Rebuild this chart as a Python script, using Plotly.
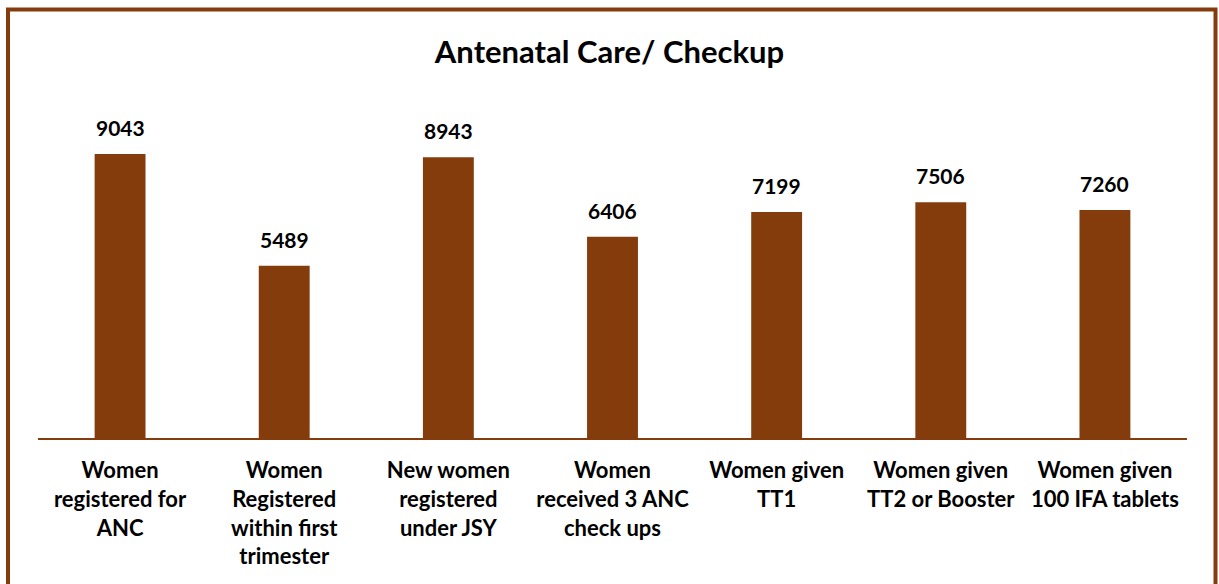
import plotly.graph_objects as go

categories = [
    "Women<br>registered for<br>ANC",
    "Women<br>Registered<br>within first<br>trimester",
    "New women<br>registered<br>under JSY",
    "Women<br>received 3 ANC<br>check ups",
    "Women given<br>TT1",
    "Women given<br>TT2 or Booster",
    "Women given<br>100 IFA tablets",
]
values = [9043, 5489, 8943, 6406, 7199, 7506, 7260]

BROWN = "#843C0C"
FONT = "Lato"

fig = go.Figure()
fig.add_trace(go.Bar(
    x=list(range(len(categories))),
    y=values,
    marker=dict(color=BROWN, line=dict(width=0)),
    width=0.31,
    hoverinfo="skip",
))

for i, v in enumerate(values):
    fig.add_annotation(
        x=i, y=v, text=f"<b>{v}</b>", showarrow=False,
        yanchor="bottom", yshift=12,
        font=dict(family=FONT, size=21, color="black"),
    )

# outer border
L, R, T, B = 38, 1187, 124, 438
def px(x):
    return (x - L) / (R - L)
def py(y):
    return (B - y) / (B - T)

fig.add_shape(type="rect", xref="paper", yref="paper",
              x0=px(8), x1=px(1215.5), y0=py(620), y1=py(9.5),
              line=dict(color=BROWN, width=4), fillcolor="rgba(0,0,0,0)", layer="above")

fig.update_layout(
    width=1219, height=584,
    margin=dict(l=L, r=1219 - R, t=T, b=584 - B),
    paper_bgcolor="white", plot_bgcolor="white",
    showlegend=False,
    title=dict(text="<b>Antenatal Care/ Checkup</b>", x=0.5, xanchor="center",
               y=1 - 52 / 584, yanchor="middle",
               font=dict(family=FONT, size=31, color="black")),
    xaxis=dict(
        tickmode="array", tickvals=list(range(len(categories))),
        ticktext=[f"<b>{c}</b>" for c in categories],
        range=[-0.5, len(categories) - 0.5],
        showline=True, linecolor=BROWN, linewidth=2,
        ticks="", showgrid=False, zeroline=False,
        tickfont=dict(family=FONT, size=22, color="black"),
        ticklabelstandoff=12,
    ),
    yaxis=dict(range=[0, 10000], visible=False, showgrid=False, zeroline=False),
)

fig.write_html("out.html", config={"displayModeBar": False},
               post_script="document.body.style.margin='0';document.body.style.overflow='hidden';")
